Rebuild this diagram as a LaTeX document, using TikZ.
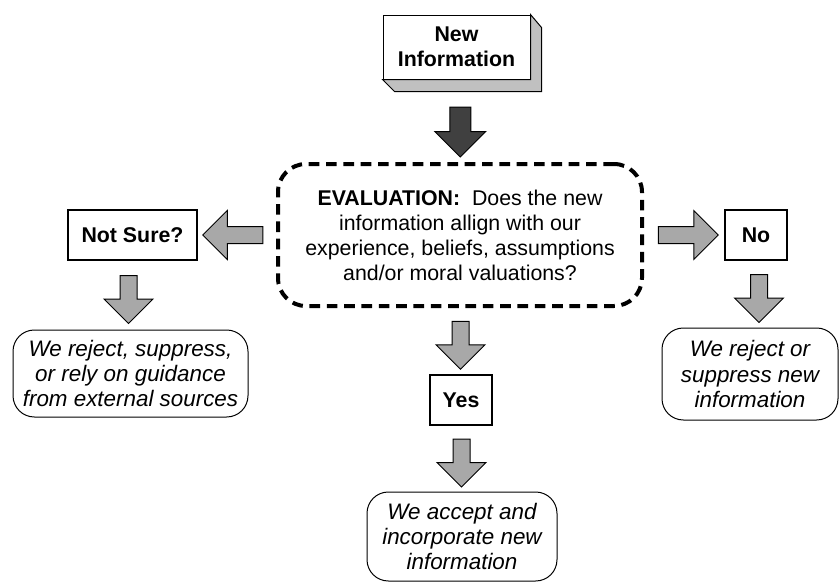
\documentclass[tikz,border=0pt]{standalone}
\usepackage{fontspec}
\setmainfont{Liberation Sans}
\usetikzlibrary{shapes.arrows,calc}

\tikzset{every picture/.style={line width=0.75pt}}

\begin{document}
\begin{tikzpicture}[x=0.75pt,y=0.75pt,yscale=-1,xscale=1,
	txt/.style={font=\fontsize{16}{18.75}\selectfont},
	decision/.style={draw, line width=1.5pt, inner sep=0pt, txt, font=\fontsize{16}{18.75}\selectfont\bfseries},
	outcome/.style={draw, rounded corners=16pt, line width=0.75pt, align=center, inner sep=0pt, font=\fontsize{16.8}{19}\selectfont\itshape},
	garrow/.style={single arrow, draw, fill={rgb, 255:red, 168; green, 168; blue, 168 }, line width=0.75pt, inner ysep=6pt, inner xsep=0pt, single arrow head extend=12pt, minimum height=36pt},
	]
	\useasboundingbox (0,0) rectangle (840,582);

	%Shape: Cube [id:newinfo] 
	\node [draw, fill=white, minimum width=110.25pt, minimum height=48pt, inner sep=0pt, align=center, font=\fontsize{16}{18.75}\selectfont\bfseries] (newinfo) at (456.5,47) {New\\Information};
	\draw [fill={rgb, 255:red, 192; green, 192; blue, 192 }] (newinfo.south west) -- ++(12,12) -- ++(147,0) -- ++(0,-64) -- (newinfo.north east) -- (newinfo.south east) -- cycle ;
	%Shape: Rounded Rect [id:eval] 
	\node [draw, line width=3pt, dash pattern=on 8pt off 5pt, rounded corners=21pt, minimum width=273pt, minimum height=106.5pt, align=center, txt] (eval) at (460,235) {\textbf{EVALUATION:}\ \ Does the new\\information allign with our\\experience, beliefs, assumptions\\and/or moral valuations?};

	%Shape: Rectangle [id:notsure] 
	\node [decision, minimum width=96.75pt, minimum height=37.5pt] (notsure) at (132.5,235) {Not Sure?};
	%Shape: Rectangle [id:no] 
	\node [decision, minimum width=46.5pt, minimum height=37.5pt] (no) at (756,235) {No};
	%Shape: Rectangle [id:yes] 
	\node [decision, minimum width=46.5pt, minimum height=37.5pt] (yes) at (461,400) {Yes};

	%Shape: Rounded Rect [id:rejleft] 
	\node [outcome, minimum width=176.25pt, minimum height=65.25pt] (rejleft) at (130.5,373.5) {We reject, suppress,\\or rely on guidance\\from external sources};
	%Shape: Rounded Rect [id:rejright] 
	\node [outcome, minimum width=132pt, minimum height=69pt] (rejright) at (750,374) {We reject or\\suppress new\\information};
	%Shape: Rounded Rect [id:accept] 
	\node [outcome, minimum width=142.5pt, minimum height=66.75pt] (accept) at (462,536.5) {We accept and\\incorporate new\\information};

	%Block Arrows
	\node [single arrow, draw, fill={rgb, 255:red, 64; green, 64; blue, 64 }, line width=0.75pt, inner ysep=7.5pt, inner xsep=0pt, single arrow head extend=11.25pt, minimum height=37.5pt, rotate=-90] (a0) at ($(newinfo.south)!0.5!(eval.north)+(2,6)$) {};
	\node [garrow, minimum height=45pt, rotate=180] (a1) at ($(eval.west)!0.5!(notsure.east)$) {};
	\node [garrow, minimum height=45pt] (a2) at ($(eval.east)!0.5!(no.west)$) {};
	\node [garrow, rotate=-90] (a3) at ($(eval.south)!0.5!(yes.north)$) {};
	\node [garrow, rotate=-90] (a4) at ($(yes.south)!0.5!(accept.north)$) {};
	\node [garrow, rotate=-90] (a5) at ($(notsure.south)!0.5!(rejleft.north)+(-3,0)$) {};
	\node [garrow, rotate=-90] (a6) at ($(no.south)!0.5!(rejright.north)+(6,0)$) {};

\end{tikzpicture}
\end{document}
